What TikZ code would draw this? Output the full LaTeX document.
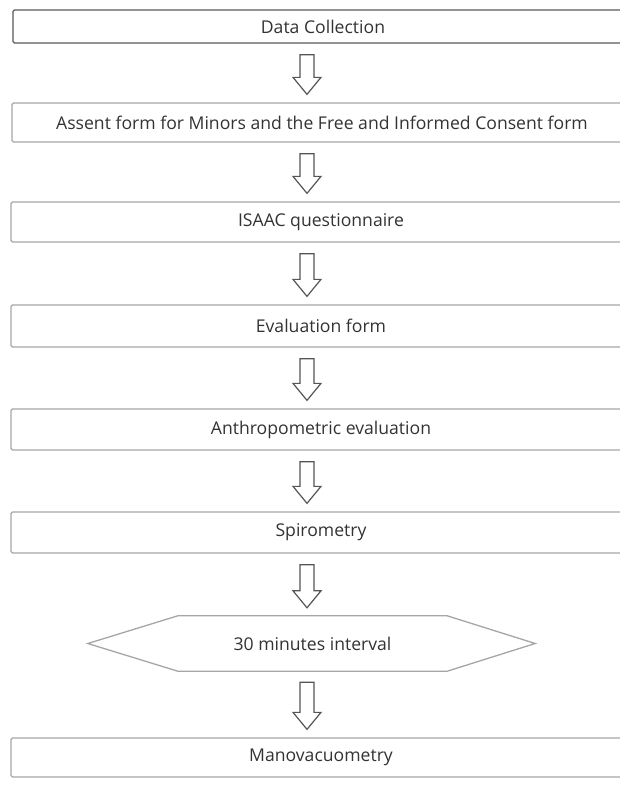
\documentclass[tikz,border=0pt]{standalone}
\usepackage{fontspec}
\setmainfont{Open Sans}
\usetikzlibrary{calc}
\definecolor{txt}{HTML}{333333}
\definecolor{edgedark}{HTML}{5A5A5A}
\definecolor{edgelight}{HTML}{A6A6A6}
\definecolor{arrowc}{HTML}{555555}
\tikzset{
  box/.style={draw=edgelight, line width=1.3pt, rounded corners=1.5pt, fill=white,
    minimum width=620pt, minimum height=40pt, inner sep=0pt, text=txt,
    font=\fontsize{17.6}{20}\selectfont},
  topbox/.style={box, draw=edgedark, minimum height=33pt},
  hexlabel/.style={inner sep=0pt, minimum width=269pt, minimum height=55pt, text=txt,
    font=\fontsize{17.6}{20}\selectfont},
  hexline/.style={draw=edgelight, line width=1.3pt, line join=miter},
  blk/.style={draw=arrowc, line width=1.2pt, fill=white, line join=miter}
}
\newcommand{\blockarrow}[2]{%
  \draw[blk] let \p1=(#1.south), \p2=(#2.north) in
    (300pt,\y1-11pt) -- (314pt,\y1-11pt) -- (314pt,\y2+25pt) -- (321pt,\y2+25pt)
    -- (307pt,\y2+8pt) -- (293pt,\y2+25pt) -- (300pt,\y2+25pt) -- cycle;}
\begin{document}
\begin{tikzpicture}[x=1pt,y=-1pt]
\useasboundingbox (0,0) rectangle (620,787);
\clip (0,0) rectangle (620,787);
\fill[white] (0,0) rectangle (620,787);
\node[topbox] (b1) at (323,26.5) {Data Collection};
\node[box, minimum height=39pt] (b2) at (322,122.5) {Assent form for Minors and the Free and Informed Consent form};
\node[box] (b3) at (321,222) {ISAAC questionnaire};
\node[box, minimum height=42pt] (b4) at (321,326) {Evaluation form};
\node[box, minimum height=41pt] (b5) at (321,429.5) {Anthropometric evaluation};
\node[box, minimum height=41pt] (b6) at (321,532.5) {Spirometry};
\node[hexlabel] (hx) at (312.5,643.5) {30 minutes interval};
\draw[hexline] (hx.north west) -- (hx.north east) -- ($(hx.east)+(88,0)$)
  -- (hx.south east) -- (hx.south west) -- ($(hx.west)+(-90,0)$) -- cycle;
\node[box, minimum height=39pt] (b7) at (321,757.5) {Manovacuometry};
\blockarrow{b1}{b2}
\blockarrow{b2}{b3}
\blockarrow{b3}{b4}
\blockarrow{b4}{b5}
\blockarrow{b5}{b6}
\blockarrow{b6}{hx}
\blockarrow{hx}{b7}
\end{tikzpicture}
\end{document}
